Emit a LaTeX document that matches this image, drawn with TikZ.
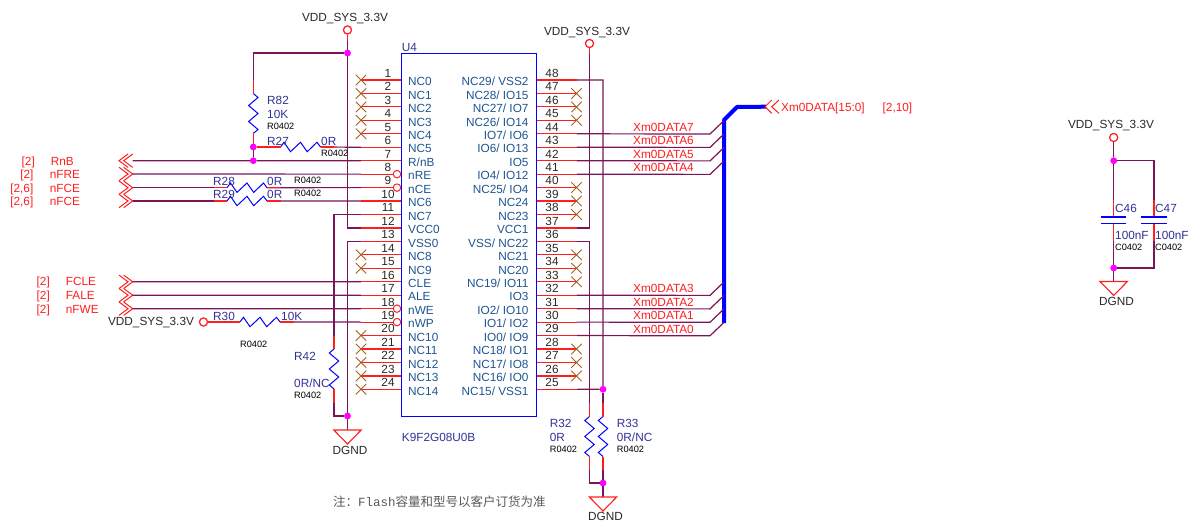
\documentclass[tikz,border=0pt]{standalone}
\usepackage{fontspec}
\setmainfont{Liberation Sans}
\newfontfamily\cjk{Noto Sans CJK SC}
\newfontfamily\mono{Liberation Mono}
\usetikzlibrary{shapes.misc}
\definecolor{wirecol}{RGB}{122,22,88}
\definecolor{pincol}{RGB}{255,30,30}
\definecolor{juncol}{RGB}{255,0,255}
\definecolor{nccol}{RGB}{165,95,30}
\definecolor{pintxt}{RGB}{30,85,145}
\definecolor{comptxt}{RGB}{50,50,150}
\definecolor{numtxt}{RGB}{40,40,40}
\tikzset{
  basetxt/.style={inner sep=0pt,text height=8.4pt,text depth=0pt,font=\fontsize{11.8}{12}\selectfont},
  wire/.style={draw=wirecol,line width=1.2pt},
  lead/.style={draw=pincol,line width=1.2pt},
  bus/.style={draw=blue,line width=4pt,line join=bevel},
  resline/.style={draw=blue,line width=1pt},
  plate/.style={draw=blue,line width=1.4pt},
  junc/.style={circle,fill=juncol,inner sep=0pt,minimum size=6.5pt},
  bubble/.style={circle,draw=pincol,fill=white,line width=1pt,inner sep=0pt,minimum size=7.5pt},
  pwr/.style={circle,draw=pincol,fill=white,line width=1.1pt,inner sep=0pt,minimum size=8pt},
  nopin/.style={cross out,draw=nccol,line width=.9pt,inner sep=0pt,minimum size=9.5pt},
  chipbox/.style={draw=blue,line width=1pt,inner sep=0pt,minimum width=135pt,minimum height=362pt},
  pinnum/.style={basetxt,text=numtxt},
  pinname/.style={basetxt,text=pintxt},
  comp/.style={basetxt,text=comptxt,anchor=west},
  foot/.style={inner sep=0pt,text height=7pt,text depth=0pt,anchor=west,text=black,font=\fontsize{9.2}{10}\selectfont},
  net/.style={basetxt,text=pincol},
  pwrtxt/.style={basetxt,text=numtxt},
  gndsym/.style={draw=pincol,line width=1.1pt,fill=white},
  resh/.pic={
    \coordinate (-a) at (0,0);
    \coordinate (-b) at (40,0);
    \draw[resline] (-a) -- (3.5,-4.7) -- (10,4.7) -- (20,-4.7) -- (26.7,4.7) -- (36.5,-4.7) -- (-b);
  },
  resv/.pic={
    \coordinate (-a) at (0,0);
    \coordinate (-b) at (0,40);
    \draw[resline] (-a) -- (4.7,4) -- (-4.7,12) -- (4.7,20) -- (-4.7,28) -- (4.7,36) -- (-b);
  },
  portout/.pic={
    \draw[draw=pincol,line width=1pt] (-9,-6.7) -- (0,0) -- (-9,6.7)
      (-13.7,-6.7) -- (-4.7,0) -- (-13.7,6.7);
  },
  portin/.pic={
    \draw[draw=pincol,line width=1pt] (0,-6.7) -- (-9,0) -- (0,6.7)
      (-4.7,-6.7) -- (-13.7,0) -- (-4.7,6.7);
  },
  portwide/.pic={
    \draw[draw=pincol,line width=1pt] (6.7,-6.7) -- (0,0) -- (6.7,6.7)
      (14,-6.7) -- (6.7,0) -- (14,6.7);
  },
  gnd/.pic={
    \draw[gndsym] (-13.7,0) -- (13.7,0) -- (0,14) -- cycle;
  }
}
\begin{document}
\begin{tikzpicture}[x=1pt,y=-1pt]
  \useasboundingbox (0,0) rectangle (1189,524);

  % left pins
  \foreach \n/\lab [evaluate=\n as \yy using 80+13.45*(\n-1)] in {1/NC0,2/NC1,3/NC2,4/NC3,5/NC4,6/NC5,7/R\slash nB,8/nRE,9/nCE,10/NC6,11/NC7,12/VCC0,13/VSS0,14/NC8,15/NC9,16/CLE,17/ALE,18/nWE,19/nWP,20/NC10,21/NC11,22/NC12,23/NC13,24/NC14} {
    \coordinate (P\n) at (361,\yy);
    \node[pinnum] (num\n) at (388,\yy-6.8) {\n};
    \node[pinname,anchor=west] (lab\n) at (408,\yy+1.5) {\lab};
  }
  % right pins
  \foreach \n/\lab [evaluate=\n as \yy using 80+13.45*(48-\n)] in {48/NC29\slash{} VSS2,47/NC28\slash{} IO15,46/NC27\slash{} IO7,45/NC26\slash{} IO14,44/IO7\slash{} IO6,43/IO6\slash{} IO13,42/IO5,41/IO4\slash{} IO12,40/NC25\slash{} IO4,39/NC24,38/NC23,37/VCC1,36/VSS\slash{} NC22,35/NC21,34/NC20,33/NC19\slash{} IO11,32/IO3,31/IO2\slash{} IO10,30/IO1\slash{} IO2,29/IO0\slash{} IO9,28/NC18\slash{} IO1,27/NC17\slash{} IO8,26/NC16\slash{} IO0,25/NC15\slash{} VSS1} {
    \coordinate (P\n) at (576.5,\yy);
    \node[pinnum] (num\n) at (552,\yy-6.8) {\n};
    \node[pinname,anchor=east] (lab\n) at (528.7,\yy+1.5) {\lab};
  }

  % power and ground
  \node[pwr] (vdd1) at (347.5,30) {};
  \node[pwrtxt] (vdd1txt) at (345,17) {VDD\_SYS\_3.3V};
  \node[pwr] (vdd2) at (589.5,43.5) {};
  \node[pwrtxt] (vdd2txt) at (587,31) {VDD\_SYS\_3.3V};
  \node[pwr] (vdd3) at (203.5,322) {};
  \node[pwrtxt] (vdd3txt) at (151,321) {VDD\_SYS\_3.3V};
  \node[pwr] (vdd4) at (1113.7,137.5) {};
  \node[pwrtxt] (vdd4txt) at (1111,124.5) {VDD\_SYS\_3.3V};
  \coordinate (gnd1) at (347.5,430);
  \coordinate (gnd2) at (603,497);
  \coordinate (gnd3) at (1113.7,281.5);
  \node[pwrtxt] (gnd1txt) at (350,450) {DGND};
  \node[pwrtxt] (gnd2txt) at (605.5,516.5) {DGND};
  \node[pwrtxt] (gnd3txt) at (1116.5,301.5) {DGND};

  % ports
  \foreach \p/\yy in {RnB/160.7} \pic (port\p) at (132.7,\yy) {portin};
  \foreach \p/\yy in {nFRE/174,nFCEa/187.7,nFCEb/201,FCLE/281.8,FALE/295.2,nFWE/308.7} \pic (port\p) at (132.7,\yy) {portout};
  \coordinate (RnB) at (132.7,160.7);
  \coordinate (nFRE) at (132.7,174);
  \coordinate (nFCEa) at (132.7,187.7);
  \coordinate (nFCEb) at (132.7,201);
  \coordinate (FCLE) at (132.7,281.8);
  \coordinate (FALE) at (132.7,295.2);
  \coordinate (nFWE) at (132.7,308.7);

  % resistors
  \pic (R82) at (253.3,93.5) {resv};
  \pic (R27) at (280.5,147) {resh};
  \pic (R28) at (227,187.7) {resh};
  \pic (R29) at (227,201) {resh};
  \pic (R30) at (240,322) {resh};
  \pic[xscale=-1] (R42) at (334,349) {resv};
  \pic[xscale=-1] (R32) at (589.5,416.5) {resv};
  \pic[xscale=-1] (R33) at (603,416.5) {resv};

  % junctions
  \coordinate (a1) at (253.3,53);
  \node[junc] (j1) at (347.5,53) {};
  \node[junc] (j2) at (253.3,147) {};
  \node[junc] (j3) at (253.3,160.7) {};
  \node[junc] (j4) at (347.5,416) {};
  \node[junc] (j5) at (603,389.3) {};
  \node[junc] (j6) at (603,483) {};
  \node[junc] (j7) at (1113.7,160.7) {};
  \node[junc] (j8) at (1113.7,268) {};

  % nets
  \draw[wire] (vdd1) -- (j1) -- (a1) -- (R82-a);
  \draw[wire] (j1) -- (P12 -| j1) -- (P12);
  \draw[wire] (R82-b) -- (j2) -- (j3);
  \draw[wire] (j2) -- (R27-a);
  \draw[wire] (R27-b) -- (P6);
  \draw[wire] (RnB) -- (j3) -- (P7);
  \draw[wire] (nFRE) -- (P8);
  \draw[wire] (nFCEa) -- (R28-a);
  \draw[wire] (R28-b) -- (P9);
  \draw[wire] (nFCEb) -- (R29-a);
  \draw[wire] (R29-b) -- (P10);
  \draw[wire] (P11) -- (P11 -| R42-a) -- (R42-a);
  \draw[wire] (R42-b) -- (j4 -| R42-b) -- (j4);
  \draw[wire] (P13) -- (P13 -| j4) -- (j4) -- (gnd1);
  \draw[wire] (FCLE) -- (P16);
  \draw[wire] (FALE) -- (P17);
  \draw[wire] (nFWE) -- (P18);
  \draw[wire] (vdd3) -- (R30-a);
  \draw[wire] (R30-b) -- (P19);
  \draw[wire] (vdd2) -- (P37 -| vdd2) -- (P37);
  \draw[wire] (P48) -- (P48 -| j5) -- (j5) -- (P25);
  \draw[wire] (j5) -- (R33-a);
  \draw[wire] (R33-b) -- (j6) -- (gnd2);
  \draw[wire] (P36) -- (P36 -| R32-a) -- (R32-a);
  \draw[wire] (R32-b) -- (R32-b |- j6) -- (j6);

  % data bus
  \coordinate (bus0) at (724,323);
  \coordinate (bus1) at (724,120);
  \coordinate (bus2) at (737,107);
  \coordinate (bus3) at (766,106.7);
  \draw[bus] (bus0) -- (bus1) -- (bus2) -- (bus3);
  \foreach \n/\b/\yy in {44/7/134,43/6/147.4,42/5/160.9,41/4/174.4,32/3/295.4,31/2/308.9,30/1/322.3,29/0/335.8} {
    \coordinate (D\n) at (710,\yy);
    \coordinate (E\n) at (724,\yy-13.45);
    \draw[wire] (P\n) -- (D\n) -- (E\n);
    \node[net] (data\b) at (663.5,\yy-7) {Xm0DATA\b};
  }
  \pic (portbus) at (765,106.7) {portwide};
  \node[net,anchor=west] (busname) at (781,107) {Xm0DATA[15:0]};
  \node[net,anchor=west] (busref) at (882.5,107) {[2,10]};

  % chip
  \node[chipbox] (chip) at (468.5,235) {};
  \foreach \n in {1,...,24} \draw[lead] (P\n) -- (P\n -| chip.west);
  \foreach \n in {25,...,48} \draw[lead] (P\n) -- (P\n -| chip.east);
  \foreach \n in {1,2,3,4,5,14,15,20,21,22,23,24,26,27,28,33,34,35,38,39,40,45,46,47} \node[nopin] (nc\n) at (P\n) {};
  \foreach \n in {8,9,18,19} \node[bubble] (inv\n) at ([xshift=36pt]P\n) {};
  \node[comp] (U4) at (401.7,47) {U4};
  \node[comp] (part) at (401.7,437) {K9F2G08U0B};

  % component leads
  \draw[lead] (vdd1.south) -- ++(0,6);
  \draw[lead] (vdd2.south) -- ++(0,6);
  \draw[lead] (vdd4.south) -- ++(0,6);
  \draw[lead] (R82-a) -- ++(0,-13.5);
  \draw[lead] (R82-b) -- (j2);
  \draw[lead] (j2) -- (R27-a);
  \draw[lead] (R27-b) -- ++(13.5,0);
  \draw[lead] (R28-a) -- ++(-13.5,0);
  \draw[lead] (R28-b) -- ++(13.5,0);
  \draw[lead] (R29-a) -- ++(-13.5,0);
  \draw[lead] (R29-b) -- ++(13.5,0);
  \draw[lead] (vdd3) -- (R30-a);
  \draw[lead] (R30-b) -- ++(13.5,0);
  \draw[lead] (R42-a) -- ++(0,-13.5);
  \draw[lead] (R42-b) -- ++(0,13.5);
  \draw[lead] (R32-a) -- ++(0,-13.5);
  \draw[lead] (R32-b) -- ++(0,13.5);
  \draw[lead] (R33-a) -- ++(0,-13.5);
  \draw[lead] (R33-b) -- ++(0,13.5);

  % decoupling caps
  \coordinate (c1a) at (1113.7,217);
  \coordinate (c1b) at (1113.7,223.7);
  \coordinate (c2a) at (1154,217);
  \coordinate (c2b) at (1154,223.7);
  \draw[wire] (vdd4) -- (j7) -- (c1a);
  \draw[wire] (c1b) -- (j8) -- (gnd3);
  \draw[wire] (j7) -- (j7 -| c2a) -- (c2a);
  \draw[wire] (c2b) -- (c2b |- j8) -- (j8);
  \draw[lead] (c1a) -- ++(0,-17);
  \draw[lead] (c1b) -- ++(0,17);
  \draw[lead] (c2a) -- ++(0,-17);
  \draw[lead] (c2b) -- ++(0,17);
  \draw[plate] ([xshift=-12.7pt]c1a) -- ([xshift=12.7pt]c1a);
  \draw[plate] ([xshift=-12.7pt]c1b) -- ([xshift=12.7pt]c1b);
  \draw[plate] ([xshift=-12.7pt]c2a) -- ([xshift=12.7pt]c2a);
  \draw[plate] ([xshift=-12.7pt]c2b) -- ([xshift=12.7pt]c2b);

  % symbols on top
  \pic at (gnd1) {gnd};
  \pic at (gnd2) {gnd};
  \pic at (gnd3) {gnd};
  \foreach \j in {j1,j2,j3,j4,j5,j6,j7,j8} \node[junc] (top\j) at (\j) {};
  \foreach \v in {vdd1,vdd2,vdd3,vdd4} \node[pwr] (top\v) at (\v) {};

  % signal names
  \foreach \i/\txt/\nm/\xx/\yy/\rr in {1/{[2]}/RnB/50.7/161.5/35,2/{[2]}/nFRE/49.7/174.2/33.7,3/{[2,6]}/nFCE/49.7/188/33.5,4/{[2,6]}/nFCE/49.7/201/33.5,5/{[2]}/FCLE/65.7/281.7/50,6/{[2]}/FALE/65.7/295/50,7/{[2]}/nFWE/65.7/309/50} {
    \node[net,anchor=west] (sig\i) at (\xx,\yy) {\nm};
    \node[net,anchor=east] (ref\i) at (\rr,\yy) {\txt};
  }

  % component values
  \node[comp] (R82n) at (267,100) {R82};
  \node[comp] (R82v) at (267,114) {10K};
  \node[foot] (R82f) at (267,126) {R0402};
  \node[comp] (R27n) at (267,141) {R27};
  \node[comp] (R27v) at (321,141) {0R};
  \node[foot] (R27f) at (321,153) {R0402};
  \node[comp] (R28n) at (213,181) {R28};
  \node[comp] (R28v) at (267,181) {0R};
  \node[foot] (R28f) at (294,180) {R0402};
  \node[comp] (R29n) at (213,194.5) {R29};
  \node[comp] (R29v) at (267,194.5) {0R};
  \node[foot] (R29f) at (294,193) {R0402};
  \node[comp] (R30n) at (213,316) {R30};
  \node[comp] (R30v) at (281,316) {10K};
  \node[foot] (R30f) at (240,344) {R0402};
  \node[comp] (R42n) at (294,356) {R42};
  \node[comp] (R42v) at (294,383) {0R/NC};
  \node[foot] (R42f) at (294,395) {R0402};
  \node[comp] (R32n) at (549.7,423) {R32};
  \node[comp] (R32v) at (549.7,437) {0R};
  \node[foot] (R32f) at (549.7,449) {R0402};
  \node[comp] (R33n) at (616.7,423) {R33};
  \node[comp] (R33v) at (616.7,437) {0R/NC};
  \node[foot] (R33f) at (616.7,449) {R0402};
  \node[comp] (C46n) at (1115,208) {C46};
  \node[comp] (C46v) at (1115,235) {100nF};
  \node[foot] (C46f) at (1115,247) {C0402};
  \node[comp] (C47n) at (1155,208) {C47};
  \node[comp] (C47v) at (1155,235) {100nF};
  \node[foot] (C47f) at (1155,247) {C0402};

  \node[anchor=west,inner sep=0pt,text=black!65,font=\fontsize{12.5}{13}\selectfont] (note) at (333,501.5) {\cjk 注：{\mono Flash}容量和型号以客户订货为准};
\end{tikzpicture}
\end{document}
